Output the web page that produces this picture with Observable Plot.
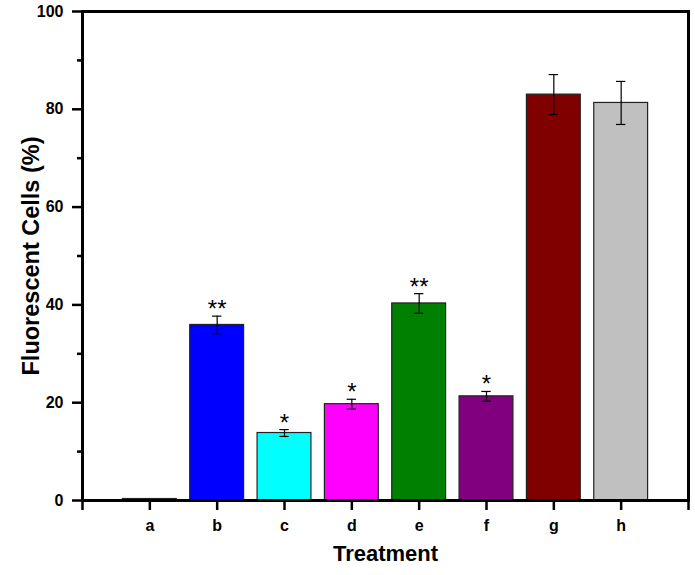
<!DOCTYPE html>
<html>
<head>
<meta charset="utf-8">
<script src="https://cdn.jsdelivr.net/npm/d3@7"></script>
<script src="https://cdn.jsdelivr.net/npm/@observablehq/plot@0.6"></script>
<style>
  html, body { margin: 0; padding: 0; background: #fff; }
  #chart svg { display: block; }
  #chart svg g[aria-label="y-axis tick label"] text,
  #chart svg g[aria-label="x-axis tick label"] text { font-size: 16px; font-weight: bold; }
</style>
</head>
<body>
<div id="chart"></div>
<script>
const categories = ["a", "b", "c", "d", "e", "f", "g", "h"];
const values = [0.3, 35.9, 13.8, 19.7, 40.3, 21.3, 83.0, 81.3];
const errors = [0.0, 1.8, 0.7, 1.0, 2.0, 1.0, 4.1, 4.4];
const colors = ["#808080", "#0000ff", "#00ffff", "#ff00ff", "#008000", "#800080", "#800000", "#c0c0c0"];
const significance = ["", "**", "*", "*", "**", "*", "", ""];
const yTicks = [0, 20, 40, 60, 80, 100];
const yMinorTicks = [10, 30, 50, 70, 90];

const data = categories.map((c, i) => ({
  cat: c, pos: i + 1, value: values[i], err: errors[i], color: colors[i], sig: significance[i]
}));
const halfBar = 0.4, halfCap = 0.07;

const chart = Plot.plot({
  width: 695,
  height: 575,
  marginLeft: 82,
  marginRight: 7,
  marginTop: 11,
  marginBottom: 75,
  style: { fontFamily: "'Liberation Sans', Arial, sans-serif", background: "#fff", color: "#000" },
  x: { type: "linear", domain: [0, categories.length + 1] },
  y: { domain: [0, 100] },
  color: { type: "identity" },
  marks: [
    Plot.rectY(data, {x1: d => d.pos - halfBar, x2: d => d.pos + halfBar, y1: 0, y2: "value", fill: "color", stroke: "#222", strokeWidth: 1.2}),
    Plot.ruleX(data.filter(d => d.err > 0), {x: "pos", y1: d => d.value - d.err, y2: d => d.value + d.err, stroke: "#000", strokeWidth: 1.2}),
    Plot.ruleY(data.filter(d => d.err > 0), {x1: d => d.pos - halfCap, x2: d => d.pos + halfCap, y: d => d.value + d.err, stroke: "#000", strokeWidth: 1.2}),
    Plot.ruleY(data.filter(d => d.err > 0), {x1: d => d.pos - halfCap, x2: d => d.pos + halfCap, y: d => d.value - d.err, stroke: "#000", strokeWidth: 1.2}),
    Plot.text(data.filter(d => d.sig), {x: "pos", y: d => d.value + d.err, text: "sig", lineAnchor: "bottom", dy: 1, fontSize: 24, fill: "#000"}),
    Plot.axisY({ticks: yTicks, tickSize: 10, tickPadding: 9, fontSize: 16, fontWeight: "bold", strokeWidth: 2.5, label: null}),
    Plot.axisY({ticks: yMinorTicks, tickSize: 5, tickFormat: () => "", strokeWidth: 2.5, label: null}),
    Plot.axisX({ticks: d3.range(0, categories.length + 2), tickSize: 10, tickPadding: 9, tickFormat: v => categories[v - 1] ?? "", fontSize: 16, fontWeight: "bold", strokeWidth: 2.5, label: null}),
    Plot.frame({stroke: "#000", strokeWidth: 3}),
    Plot.text(["Treatment"], {frameAnchor: "bottom", dy: 60, fontSize: 22, fontWeight: "bold", fill: "#000"}),
    Plot.text(["Fluorescent Cells (%)"], {frameAnchor: "left", textAnchor: "middle", rotate: -90, dx: -51, fontSize: 23.5, fontWeight: "bold", fill: "#000"})
  ]
});
document.getElementById("chart").appendChild(chart);
</script>
</body>
</html>
